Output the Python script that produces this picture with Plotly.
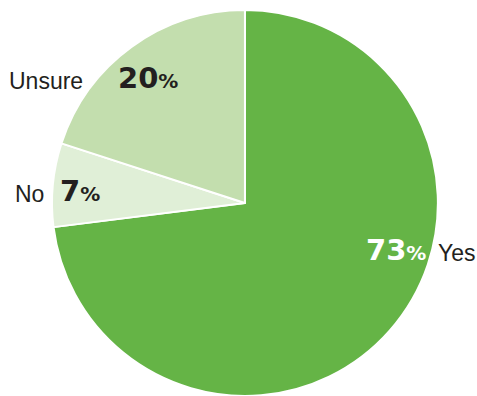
import plotly.graph_objects as go

# Survey answers, clockwise from 12 o'clock
labels = ["Yes", "No", "Unsure"]
values = [73, 7, 20]
colors = ["#65b446", "#e0efd7", "#c3deae"]

W, H = 477, 396
NAME_FONT = "Liberation Sans, Arial, sans-serif"
NUM_FONT = "DejaVu Sans, sans-serif"
DARK = "#231f20"

fig = go.Figure(go.Pie(
    labels=labels,
    values=values,
    sort=False,
    direction="clockwise",
    rotation=0,
    textinfo="none",
    hoverinfo="label+percent",
    marker=dict(colors=colors, line=dict(color="white", width=2)),
    domain=dict(x=[0.109, 0.918], y=[0.0, 0.975]),
    showlegend=False,
))


def pct_html(v, color):
    return (f"<b><span style='font-size:29px;color:{color}'>{v}</span>"
            f"<span style='font-size:20px;color:{color}'>%</span></b>")


# pixel positions: left edge of name, left edge of percentage, vertical centre
placements = {
    "Unsure": dict(name_x=7, pct_x=116, y=81, pct_color=DARK),
    "No": dict(name_x=13, pct_x=58, y=194, pct_color=DARK),
    "Yes": dict(name_x=436, pct_x=364, y=253, pct_color="white"),
}

annotations = []
for lab, val in zip(labels, values):
    p = placements[lab]
    annotations.append(dict(
        x=p["name_x"] / W, y=1 - p["y"] / H, xref="paper", yref="paper",
        text=lab, showarrow=False, xanchor="left", yanchor="middle",
        font=dict(family=NAME_FONT, size=23, color=DARK)))
    annotations.append(dict(
        x=p["pct_x"] / W, y=1 - (p["y"] - 3) / H, xref="paper", yref="paper",
        text=pct_html(val, p["pct_color"]), showarrow=False,
        xanchor="left", yanchor="middle", font=dict(family=NUM_FONT)))

fig.update_layout(
    width=W, height=H,
    margin=dict(l=0, r=0, t=0, b=0),
    paper_bgcolor="white",
    plot_bgcolor="white",
    annotations=annotations,
)

fig.write_html("out.html")
